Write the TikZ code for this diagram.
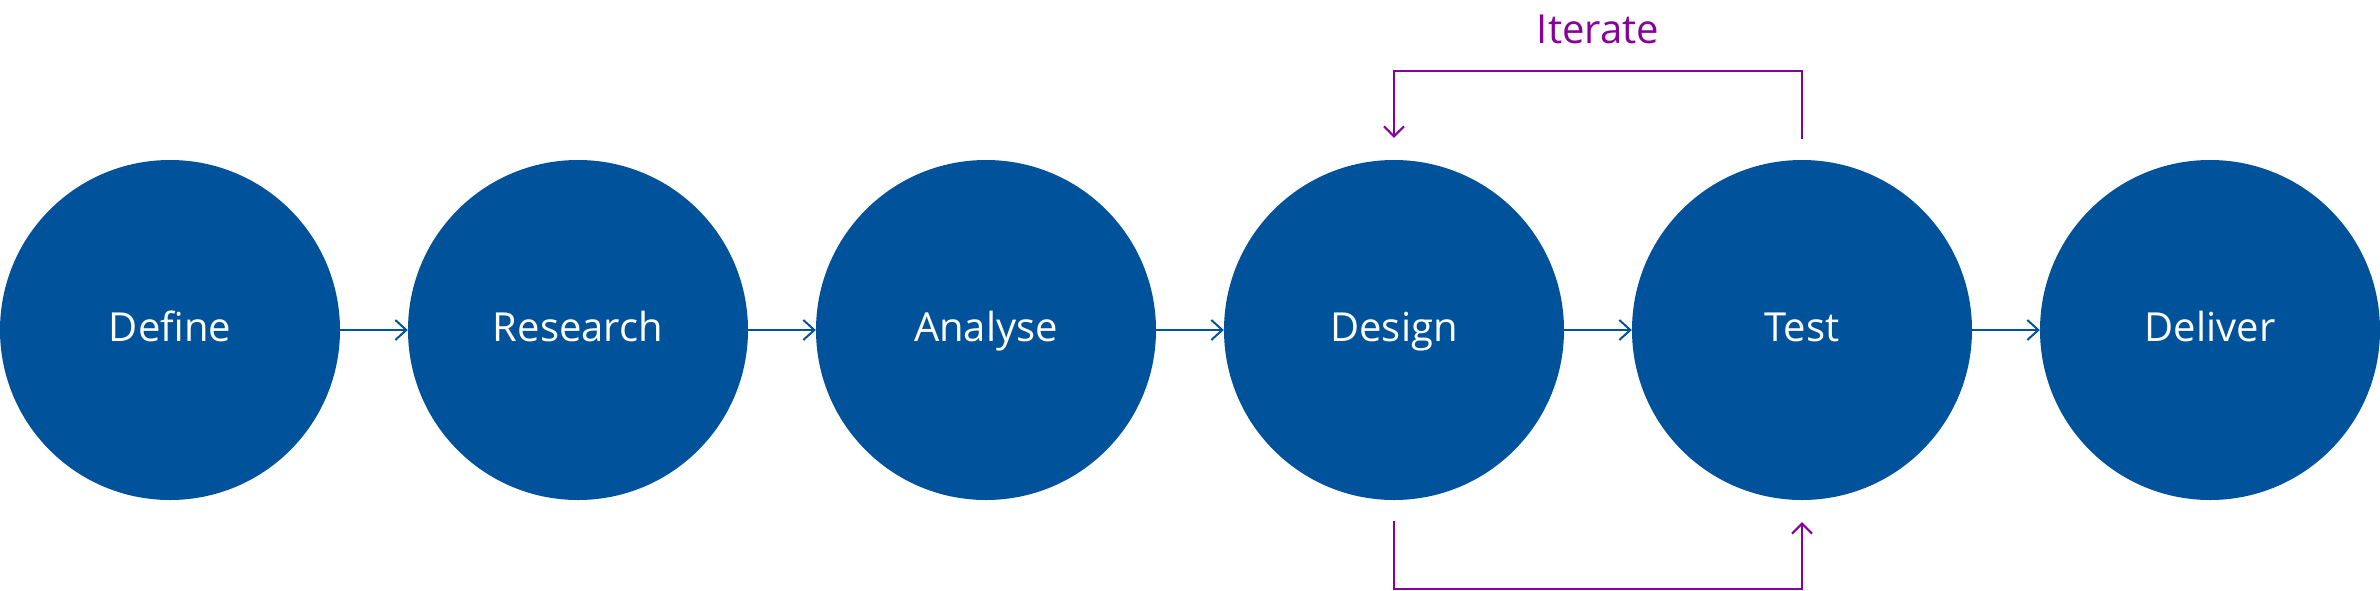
\documentclass[tikz,border=0pt]{standalone}
\usepackage{fontspec}
\setmainfont{Open Sans}
\usetikzlibrary{arrows.meta}
\definecolor{stepblue}{RGB}{0,82,155}
\definecolor{looppurple}{RGB}{136,0,155}
\begin{document}
\begin{tikzpicture}[x=1pt,y=-1pt,
  stage/.style={circle, fill=stepblue, draw=none, minimum size=340pt, inner sep=0pt,
    text=white, font=\fontsize{40}{48}\selectfont, text height=23pt, text depth=0pt},
  flow/.style={draw=stepblue, line width=2pt,
    -{Straight Barb[length=11pt,width=20pt,line width=2pt]}},
  iterline/.style={draw=looppurple, line width=2pt,
    -{Straight Barb[length=10pt,width=20pt,line width=2pt]}},
  iterlabel/.style={text=looppurple, font=\fontsize{40}{48}\selectfont, anchor=base, inner sep=0pt}
]
\useasboundingbox (0,0) rectangle (2380,590);
\node[stage] (def) at (170,330) {Define};
\node[stage] (res) at (578,330) {Research};
\node[stage] (ana) at (986,330) {Analyse};
\node[stage] (des) at (1394,330) {Design};
\node[stage] (tst) at (1802,330) {Test};
\node[stage] (del) at (2210,330) {Deliver};
\draw[flow] (def) -- (res);
\draw[flow] (res) -- (ana);
\draw[flow] (ana) -- (des);
\draw[flow] (des) -- (tst);
\draw[flow] (tst) -- (del);
\draw[iterline] ([yshift=21pt]tst.north) -- ++(0,-68) -| ([yshift=22pt]des.north);
\draw[iterline] ([yshift=-21pt]des.south) -- ++(0,68) -| ([yshift=-22pt]tst.south);
\node[iterlabel] (it) at (1598,43) {Iterate};
\end{tikzpicture}
\end{document}
